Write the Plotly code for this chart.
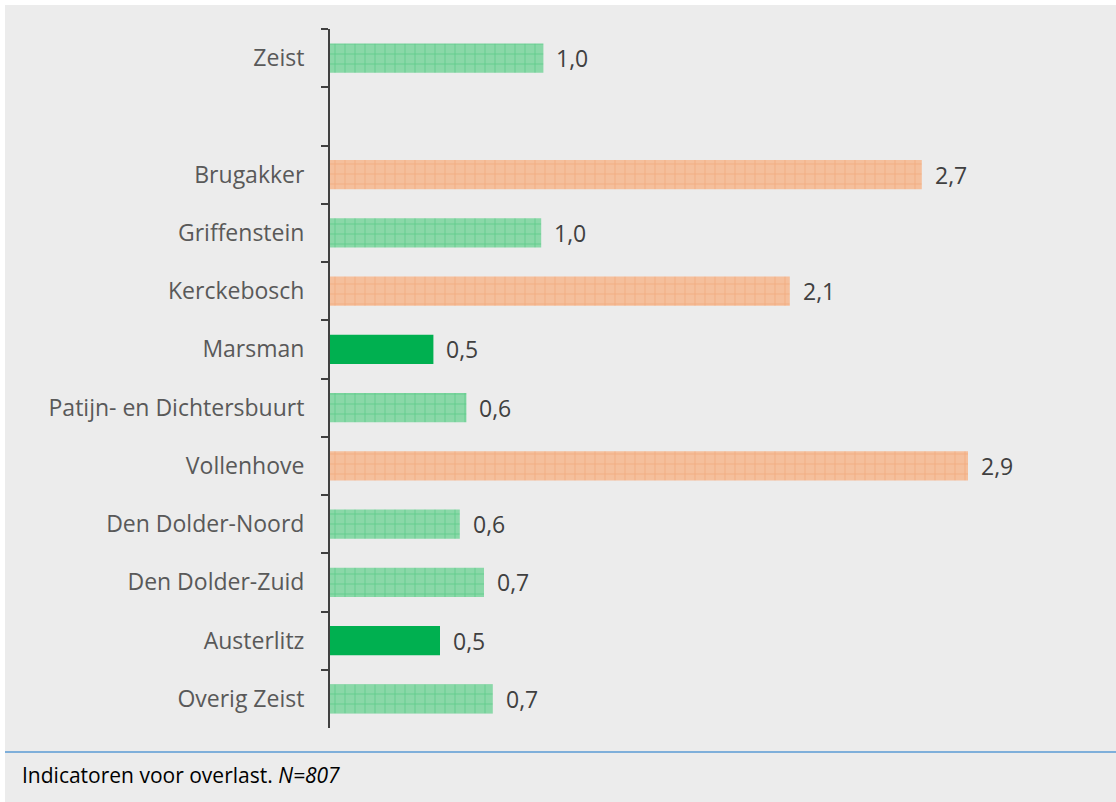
import plotly.graph_objects as go

# categories top to bottom, " " is the empty spacer row under Zeist
wijken = ['Zeist', ' ', 'Brugakker', 'Griffenstein', 'Kerckebosch', 'Marsman',
          'Patijn- en Dichtersbuurt', 'Vollenhove', 'Den Dolder-Noord',
          'Den Dolder-Zuid', 'Austerlitz', 'Overig Zeist']
waarden = [0.97, None, 2.69, 0.96, 2.09, 0.47, 0.62, 2.9, 0.59, 0.70, 0.50, 0.74]
groep = ['gem', None, 'hoog', 'gem', 'hoog', 'laag', 'gem', 'hoog', 'gem', 'gem', 'laag', 'gem']

W, H = 1116, 802
L, R, T, B = 330, 16, 29, 74
plot_w = W - L - R
plot_h = H - T - B

stijl = {
    'gem': dict(color='#8ad8a8', pattern=dict(shape='+', fgcolor='#2fbf68', bgcolor='#8ad8a8',
                                              size=10, solidity=0.15)),
    'hoog': dict(color='#f5bf9c', pattern=dict(shape='+', fgcolor='#ee9660', bgcolor='#f5bf9c',
                                               size=10, solidity=0.15)),
    'laag': dict(color='#00b050'),
}

fig = go.Figure()
for g in ['gem', 'hoog', 'laag']:
    ys = [w for w, gr in zip(wijken, groep) if gr == g]
    xs = [v for v, gr in zip(waarden, groep) if gr == g]
    fig.add_trace(go.Bar(x=xs, y=ys, orientation='h', width=0.5,
                         marker=dict(line=dict(width=0), **stijl[g]),
                         showlegend=False, hoverinfo='x+y'))

for w, v in zip(wijken, waarden):
    if v is None:
        continue
    fig.add_annotation(x=v, y=w, text=f'{v:.1f}'.replace('.', ','), showarrow=False,
                       xanchor='left', xshift=11, font=dict(size=23, color='#404040'))

# footer: blue rule and caption
y_lijn = (H - B - 752) / plot_h
fig.add_shape(type='line', xref='paper', yref='paper', x0=(5 - L) / plot_w, x1=1.1,
              y0=y_lijn, y1=y_lijn, line=dict(color='#5b9bd5', width=1.5))
fig.add_annotation(xref='paper', yref='paper', x=(20 - L) / plot_w, y=(H - B - 775) / plot_h,
                   xanchor='left', yanchor='middle', showarrow=False,
                   text='Indicatoren voor overlast. <i>N=807</i>',
                   font=dict(size=21, color='#000000'))

# white strips at top and left edge
fig.add_shape(type='rect', xref='paper', yref='paper', x0=-L / plot_w, x1=1.1,
              y0=(H - B - 5) / plot_h, y1=(H - B + 5) / plot_h,
              fillcolor='white', line=dict(width=0), layer='below')
fig.add_shape(type='rect', xref='paper', yref='paper', x0=-L / plot_w - 0.01, x1=(5 - L) / plot_w,
              y0=-0.2, y1=1.1, fillcolor='white', line=dict(width=0), layer='below')

fig.update_layout(
    width=W, height=H,
    margin=dict(l=L, r=R, t=T, b=B),
    paper_bgcolor='#ececec', plot_bgcolor='#ececec',
    font=dict(family='Open Sans', size=23, color='#595959'),
    bargap=0.5,
)
fig.update_xaxes(range=[0, plot_w / 220], visible=False)
fig.update_yaxes(type='category', categoryorder='array', categoryarray=wijken,
                 autorange='reversed', showgrid=False, zeroline=False,
                 showline=True, linecolor='#404040', linewidth=2,
                 ticks='outside', ticklen=7, tickwidth=2, tickcolor='#404040',
                 tickson='boundaries', ticklabelstandoff=19,
                 tickfont=dict(size=23, color='#595959'))

fig.write_html('out.html', config={'displayModeBar': False},
               post_script="document.body.style.margin='0';")
